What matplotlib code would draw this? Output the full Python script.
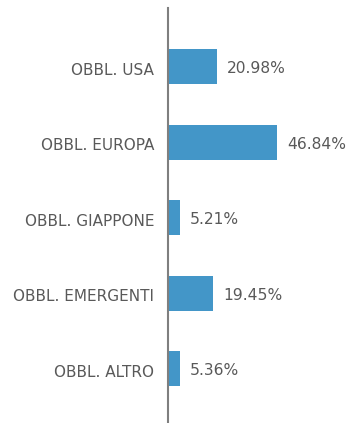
import matplotlib
matplotlib.use("Agg")
import matplotlib.pyplot as plt
from matplotlib.transforms import ScaledTranslation

categories = ["OBBL. USA", "OBBL. EUROPA", "OBBL. GIAPPONE", "OBBL. EMERGENTI", "OBBL. ALTRO"]
weights = [20.98, 46.84, 5.21, 19.45, 5.36]
value_labels = ["20.98%", "46.84%", "5.21%", "19.45%", "5.36%"]

BAR_COLOR = "#4396C8"
TEXT_COLOR = "#595959"
AXIS_COLOR = "#7F7F7F"
FONT = "DejaVu Sans"

W, H = 348, 423
fig = plt.figure(figsize=(W / 100, H / 100), dpi=100)
ax = fig.add_axes([168 / W, 0, 163 / W, 415 / H])

pos = list(range(len(categories)))
ax.barh(pos, weights, height=0.464, color=BAR_COLOR, zorder=2)

ax.set_xlim(0, 70)
ax.set_ylim(4.72, -0.775)

for p, v, lab in zip(pos, weights, value_labels):
    ax.annotate(lab, xy=(v, p), xytext=(7, -1.5), textcoords="offset points",
                ha="left", va="center", fontsize=11.2, color=TEXT_COLOR,
                family=FONT, annotation_clip=False)

ax.set_yticks(pos)
ax.set_yticklabels(categories, fontsize=11, color=TEXT_COLOR, family=FONT)
ax.tick_params(axis="y", length=0, pad=10)
shift = ScaledTranslation(0, -1.5 / 72, fig.dpi_scale_trans)
for t in ax.get_yticklabels():
    t.set_transform(t.get_transform() + shift)
ax.set_xticks([])

for side in ("top", "right", "bottom"):
    ax.spines[side].set_visible(False)
ax.spines["left"].set_color(AXIS_COLOR)
ax.spines["left"].set_linewidth(1.5)
ax.spines["left"].set_zorder(3)
ax.patch.set_alpha(0)

fig.savefig("out.png", dpi=100)
